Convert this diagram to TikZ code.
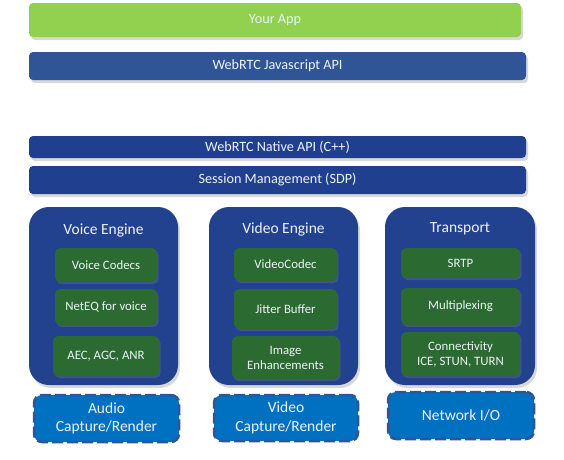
\documentclass[tikz,border=0pt]{standalone}
\usepackage{fontspec}
\setmainfont{Carlito}
\usetikzlibrary{shadows}
\definecolor{appgreen}{HTML}{92D050}
\definecolor{jsblue}{HTML}{2F5597}
\definecolor{natblue}{HTML}{213F8F}
\definecolor{engblue}{HTML}{22418F}
\definecolor{modgreen}{HTML}{2B6A30}
\definecolor{iofill}{HTML}{0070C0}
\definecolor{iodash}{HTML}{2F5597}
\definecolor{txt}{HTML}{EEF3FA}
\tikzset{
  base/.style={inner sep=0pt, align=center, text=txt},
  shad/.style={drop shadow={opacity=0.3, shadow xshift=2pt, shadow yshift=-3pt}},
  bar/.style={base, shad, rounded corners=4pt, font=\fontsize{14.2}{16}\selectfont},
  engine/.style={base, shad, fill=engblue, rounded corners=20pt},
  enginetitle/.style={base, font=\fontsize{15.5}{18}\selectfont},
  module/.style={base, fill=modgreen, rounded corners=5pt,
    drop shadow={opacity=0.3, shadow xshift=1.5pt, shadow yshift=-2pt},
    font=\fontsize{12.8}{15}\selectfont},
  iobox/.style={base, fill=iofill, draw=iodash, line width=2.5pt,
    dash pattern=on 11pt off 4pt, rounded corners=8pt,
    font=\fontsize{15.5}{18.5}\selectfont},
}
\begin{document}
\begin{tikzpicture}[x=1pt,y=-1pt]
\useasboundingbox[fill=white] (0,0) rectangle (564,459);
% top bars
\node[bar, fill=appgreen, minimum width=492pt, minimum height=34pt] (app) at (275,20) {Your App};
\node[bar, fill=jsblue, minimum width=497pt, minimum height=28pt] (js) at (277.5,66) {WebRTC Javascript API};
\node[bar, fill=natblue, minimum width=497pt, minimum height=22pt] (native) at (277.5,147) {WebRTC Native API (C++)};
\node[bar, fill=natblue, minimum width=497pt, minimum height=28pt] (sdp) at (277.5,180) {Session Management (SDP)};
% engines
\node[engine, minimum width=149pt, minimum height=178pt] (voice) at (103.5,296) {};
\node[engine, minimum width=149pt, minimum height=178pt] (video) at (283.5,296) {};
\node[engine, minimum width=150pt, minimum height=178pt] (transport) at (460,296) {};
\node[enginetitle] (voicet) at (103.5,230) {Voice Engine};
\node[enginetitle] (videot) at (283.5,229) {Video Engine};
\node[enginetitle] (transportt) at (460,229) {Transport};
% voice modules
\node[module, minimum width=102pt, minimum height=34pt] (vcodec) at (106,265) {Voice Codecs};
\node[module, minimum width=102pt, minimum height=36pt] (neteq) at (106,307) {NetEQ for voice};
\node[module, minimum width=106pt, minimum height=40pt] (aec) at (106,356) {AEC, AGC, ANR};
% video modules
\node[module, minimum width=103pt, minimum height=33pt] (vidcodec) at (285.5,264.5) {VideoCodec};
\node[module, minimum width=103pt, minimum height=40pt] (jitter) at (285.5,309) {Jitter Buffer};
\node[module, minimum width=107pt, minimum height=43pt] (image) at (285.5,357.5) {Image\\Enhancements};
% transport modules
\node[module, minimum width=119pt, minimum height=30pt] (srtp) at (460.5,263) {SRTP};
\node[module, minimum width=119pt, minimum height=37pt] (mux) at (460.5,306.5) {Multiplexing};
\node[module, minimum width=119pt, minimum height=44pt] (conn) at (460.5,354) {Connectivity\\ICE, STUN, TURN};
% io boxes
\node[iobox, minimum width=145pt, minimum height=47pt] (audioio) at (106.5,418.5) {Audio\\Capture/Render};
\node[iobox, minimum width=144pt, minimum height=46pt] (videoio) at (286,418) {Video\\Capture/Render};
\node[iobox, minimum width=146pt, minimum height=47pt] (netio) at (461,415.5) {Network I/O};
\end{tikzpicture}
\end{document}
